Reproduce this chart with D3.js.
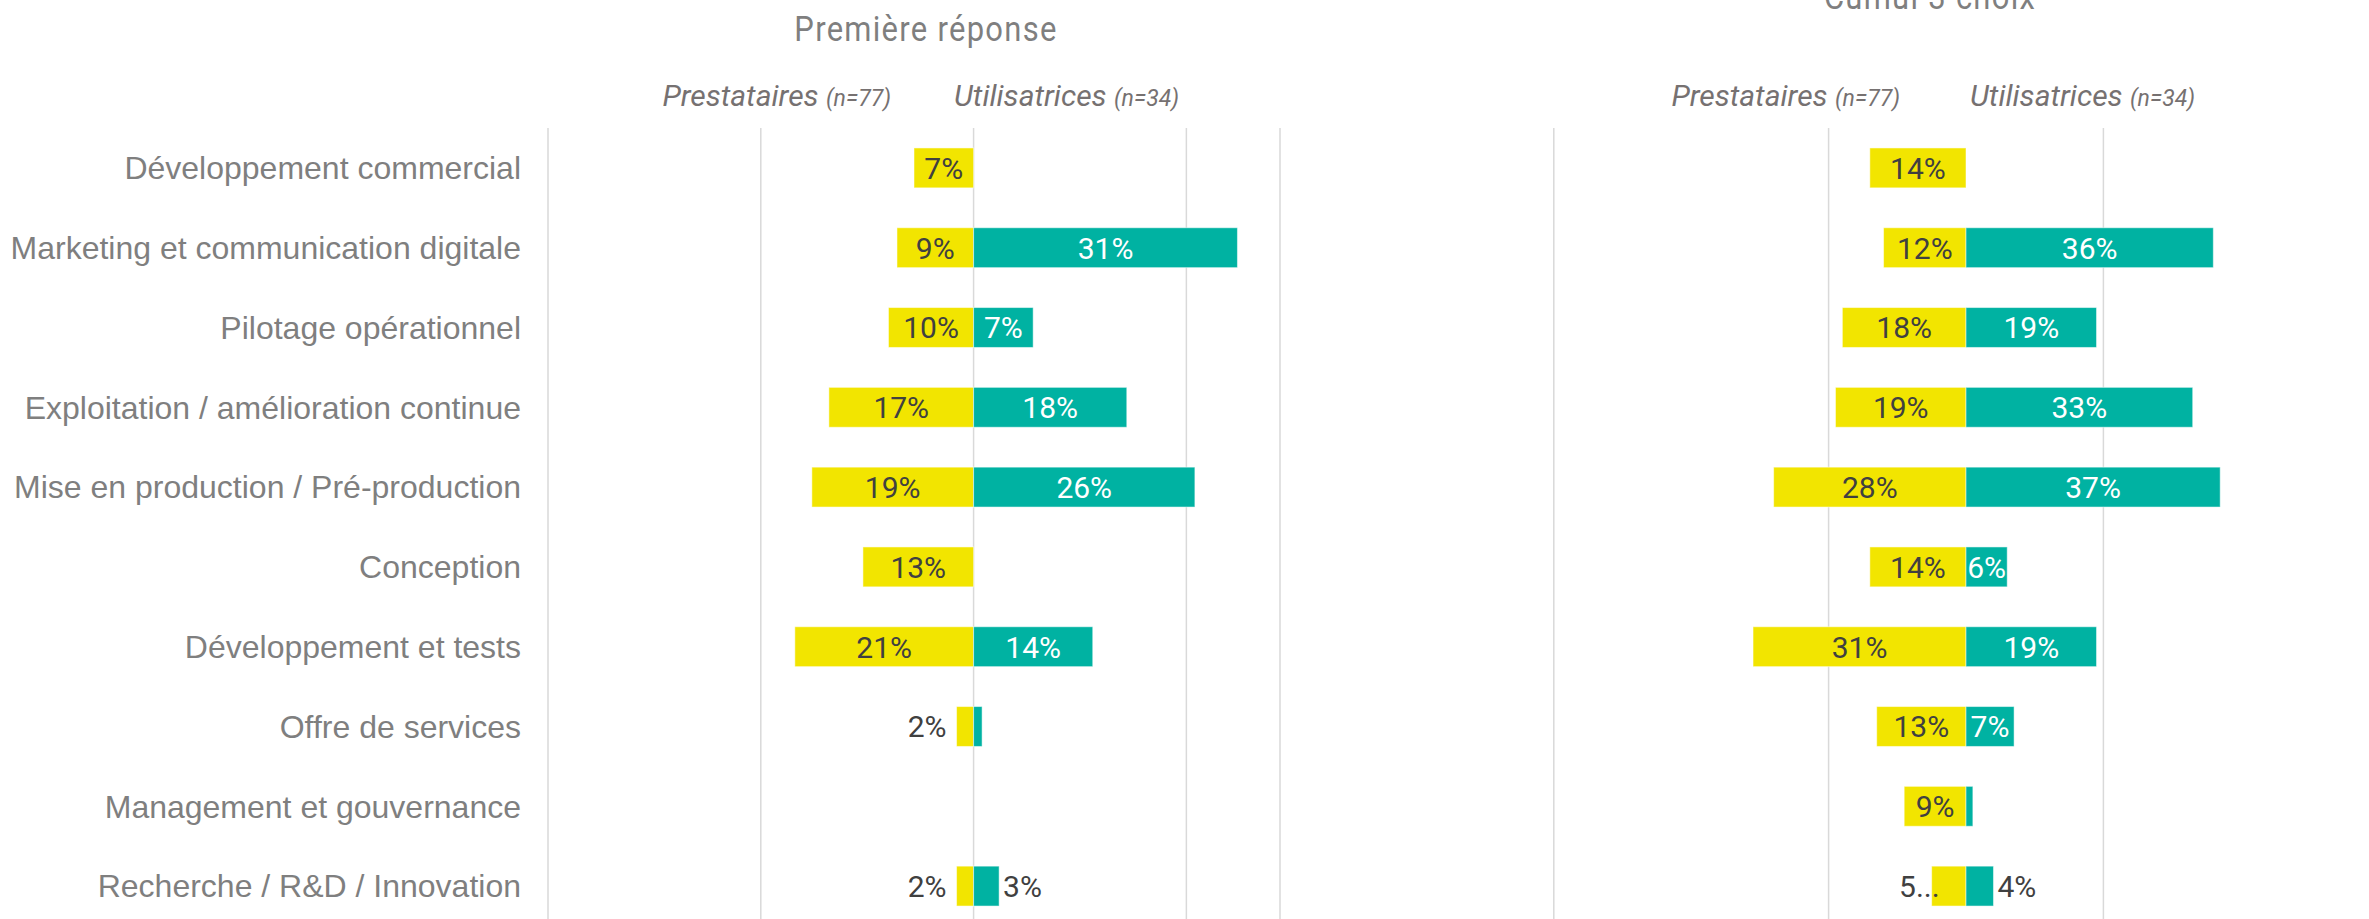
<!DOCTYPE html>
<html lang="fr">
<head>
  <meta charset="UTF-8">
  <title>Première réponse / Cumul 3 choix</title>
  <script src="https://d3js.org/d3.v7.min.js"></script>
  <style>
    body { margin: 0; background: #fff; }
    text { font-family: Roboto, "Liberation Sans", Arial, sans-serif; }
  </style>
</head>
<body>
<svg width="2369" height="919"></svg>
<script>

  // données
  var categories = [
    "Développement commercial",
    "Marketing et communication digitale",
    "Pilotage opérationnel",
    "Exploitation / amélioration continue",
    "Mise en production / Pré-production",
    "Conception",
    "Développement et tests",
    "Offre de services",
    "Management et gouvernance",
    "Recherche / R&D / Innovation"
  ];
  var premierePrest = [7, 9, 10, 17, 19, 13, 21, 2, 0, 2];   // Prestataires (n=77)
  var premiereUtil = [0, 31, 7, 18, 26, 0, 14, 1, 0, 3];     // Utilisatrices (n=34)
  var cumulPrest = [14, 12, 18, 19, 28, 14, 31, 13, 9, 5];
  var cumulUtil = [0, 36, 19, 33, 37, 6, 19, 7, 1, 4];
  var cumulPrestLabels = [null, null, null, null, null, null, null, null, null, "5..."]; // étiquette tronquée

  var jaune = "#F2E500";
  var turquoise = "#00B2A2";
  var gris = "#7f7f7f";
  var texteFonce = "#404040";

  var svg = d3.select("svg");

  // axe vertical commun
  var y = d3.scaleBand()
    .domain(categories)
    .range([128, 926])
    .paddingInner(0.5)
    .paddingOuter(0.25);

  var panels = [
    {
      title: "Première réponse", titleX: 926, titleY: 41,
      x: d3.scaleLinear().domain([-50, 36]).range([548, 1280]),
      grid: [-50, -25, 0, 25, 36],
      prest: premierePrest, util: premiereUtil, prestLabels: [],
      prestEnd: 891, utilStart: 954
    },
    {
      title: "Cumul 3 choix", titleX: 1930, titleY: 9,
      x: d3.scaleLinear().domain([-60, 60]).range([1553.8, 2378.2]),
      grid: [-60, -20, 20, 60],
      prest: cumulPrest, util: cumulUtil, prestLabels: cumulPrestLabels,
      prestEnd: 1900, utilStart: 1970
    }
  ];

  // libellés des catégories
  svg.append("g")
    .selectAll("text")
    .data(categories)
    .enter()
    .append("text")
    .attr("x", 521)
    .attr("y", function (d) { return y(d) + y.bandwidth() / 2; })
    .attr("dy", "0.35em")
    .attr("text-anchor", "end")
    .attr("fill", gris)
    .style("font-family", "'Liberation Sans', Arial, sans-serif")
    .style("font-size", "32px")
    .text(function (d) { return d; });

  panels.forEach(function (p) {
    var x = p.x;
    var x0 = x(0);
    var g = svg.append("g");

    // titre (police étroite simulée)
    g.append("g")
      .attr("transform", "translate(" + p.titleX + "," + p.titleY + ") scale(0.86,1)")
      .append("text")
      .attr("text-anchor", "middle")
      .attr("fill", gris)
      .style("font-size", "36px")
      .style("letter-spacing", "1.5px")
      .text(p.title);

    // sous-titres
    var st1 = g.append("text")
      .attr("x", p.prestEnd).attr("y", 106)
      .attr("text-anchor", "end")
      .attr("fill", "#767171")
      .style("font-style", "italic");
    st1.append("tspan").style("font-size", "30px").text("Prestataires ");
    st1.append("tspan").style("font-size", "23px").text("(n=77)");

    var st2 = g.append("text")
      .attr("x", p.utilStart).attr("y", 106)
      .attr("fill", "#767171")
      .style("font-style", "italic");
    st2.append("tspan").style("font-size", "30px").text("Utilisatrices ");
    st2.append("tspan").style("font-size", "23px").text("(n=34)");

    // quadrillage
    g.append("g")
      .selectAll("line")
      .data(p.grid)
      .enter()
      .append("line")
      .attr("x1", function (d) { return x(d); })
      .attr("x2", function (d) { return x(d); })
      .attr("y1", 128)
      .attr("y2", 919)
      .attr("stroke", "#d9d9d9")
      .attr("stroke-width", 1.5);

    var rows = categories.map(function (c, i) {
      return { cat: c, prest: p.prest[i], util: p.util[i], label: p.prestLabels[i] };
    });

    // barres Prestataires (vers la gauche)
    g.append("g")
      .selectAll("rect")
      .data(rows.filter(function (d) { return d.prest > 0; }))
      .enter()
      .append("rect")
      .attr("x", function (d) { return x(-d.prest); })
      .attr("y", function (d) { return y(d.cat); })
      .attr("width", function (d) { return x0 - x(-d.prest); })
      .attr("height", y.bandwidth())
      .attr("fill", jaune)
      .attr("stroke", "#fff")
      .attr("stroke-opacity", 0.5);

    // barres Utilisatrices (vers la droite)
    g.append("g")
      .selectAll("rect")
      .data(rows.filter(function (d) { return d.util > 0; }))
      .enter()
      .append("rect")
      .attr("x", x0)
      .attr("y", function (d) { return y(d.cat); })
      .attr("width", function (d) { return x(d.util) - x0; })
      .attr("height", y.bandwidth())
      .attr("fill", turquoise)
      .attr("stroke", "#fff")
      .attr("stroke-opacity", 0.5);

    // étiquettes
    var minInside = 36;
    g.append("g")
      .selectAll("text")
      .data(rows.filter(function (d) { return d.prest >= 2; }))
      .enter()
      .append("text")
      .attr("x", function (d) {
        var w = x0 - x(-d.prest);
        if (d.label) return x(-d.prest) + 8;   // étiquette tronquée qui déborde sur la barre
        return w < minInside ? x(-d.prest) - 10 : x0 - w / 2;
      })
      .attr("y", function (d) { return y(d.cat) + y.bandwidth() / 2; })
      .attr("dy", "0.36em")
      .attr("text-anchor", function (d) {
        return (x0 - x(-d.prest)) < minInside ? "end" : "middle";
      })
      .attr("fill", texteFonce)
      .style("font-size", "30px")
      .text(function (d) { return d.label || (d.prest + "%"); });

    g.append("g")
      .selectAll("text")
      .data(rows.filter(function (d) { return d.util >= 2; }))
      .enter()
      .append("text")
      .attr("x", function (d) {
        var w = x(d.util) - x0;
        return w < minInside ? x(d.util) + 4 : x0 + w / 2;
      })
      .attr("y", function (d) { return y(d.cat) + y.bandwidth() / 2; })
      .attr("dy", "0.36em")
      .attr("text-anchor", function (d) {
        return (x(d.util) - x0) < minInside ? "start" : "middle";
      })
      .attr("fill", function (d) {
        return (x(d.util) - x0) < minInside ? texteFonce : "#fff";
      })
      .style("font-size", "30px")
      .text(function (d) { return d.util + "%"; });
  });

</script>
</body>
</html>
